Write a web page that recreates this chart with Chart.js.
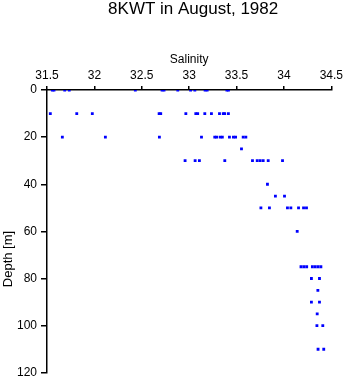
<!DOCTYPE html>
<html lang="en">
<head>
    <meta charset="UTF-8">
    <title>8KWT in August, 1982</title>
    <script src="https://cdn.jsdelivr.net/npm/chart.js"></script>
    <style>
        body { margin: 0; background: #ffffff; }
        #wrap { width: 346px; height: 384px; }
    </style>
</head>
<body>
    <div id="wrap"><canvas id="chart" width="346" height="384"></canvas></div>
    <script>
        const chartTitle = '8KWT in August, 1982';
        const xLabel = 'Salinity';
        const yLabel = 'Depth [m]';

        // one entry per sample: depth [m] and salinity
        const depth = [
            0, 0, 0, 0, 0, 0, 0, 0, 0, 0, 0, 0, 0, 0,
            10, 10, 10, 10, 10, 10, 10, 10, 10, 10, 10, 10, 10, 10,
            20, 20, 20, 20, 20, 20, 20, 20, 20, 20, 20, 20, 20,
            25,
            30, 30, 30, 30, 30, 30, 30, 30, 30, 30,
            40,
            45, 45,
            50, 50, 50, 50, 50, 50, 50,
            60,
            75, 75, 75, 75, 75, 75, 75,
            80, 80,
            85,
            90, 90,
            95,
            100, 100,
            110, 110
        ];
        const salinity = [
            31.556, 31.574, 31.687, 31.735, 32.432, 32.714, 32.735, 32.880, 33.015, 33.060, 33.168, 33.190, 33.398, 33.415,
            31.535, 31.814, 31.978, 32.683, 32.700, 32.965, 33.070, 33.090, 33.165, 33.235, 33.320, 33.360, 33.375, 33.414,
            31.662, 32.116, 32.686, 33.130, 33.270, 33.290, 33.327, 33.350, 33.425, 33.467, 33.490, 33.570, 33.598,
            33.552,
            32.957, 33.063, 33.108, 33.376, 33.668, 33.718, 33.749, 33.781, 33.834, 33.985,
            33.826,
            33.910, 34.006,
            33.757, 33.847, 34.037, 34.073, 34.154, 34.207, 34.238,
            34.140,
            34.180, 34.210, 34.240, 34.300, 34.330, 34.360, 34.390,
            34.290, 34.375,
            34.358,
            34.290, 34.375,
            34.351,
            34.348, 34.410,
            34.360, 34.420
        ];

        const points = salinity.map((s, i) => ({ x: s, y: depth[i] }));
        const font = 'Liberation Sans, Arial, sans-serif';

        // title over the plot area and the y label a bit below the middle, as in the original
        const plotLabels = {
            id: 'plotLabels',
            afterDraw(chart) {
                const ctx = chart.ctx;
                const a = chart.chartArea;
                ctx.save();
                ctx.fillStyle = '#000';
                ctx.font = '17px ' + font;
                ctx.textAlign = 'center';
                ctx.textBaseline = 'middle';
                ctx.fillText(chartTitle, (a.left + a.right) / 2 + 4, 9);

                ctx.font = '13px ' + font;
                ctx.translate(8, 259);
                ctx.rotate(-Math.PI / 2);
                ctx.fillText(yLabel, 0, 0);
                ctx.restore();
            }
        };

        new Chart(document.getElementById('chart').getContext('2d'), {
            type: 'scatter',
            data: {
                datasets: [{
                    data: points,
                    backgroundColor: '#0000ff',
                    borderWidth: 0,
                    pointStyle: 'rect',
                    pointRadius: 2,
                    pointHoverRadius: 2
                }]
            },
            options: {
                responsive: false,
                animation: false,
                layout: { padding: { left: 0, right: 13, top: 52, bottom: 3 } },
                plugins: {
                    legend: { display: false },
                    tooltip: { enabled: false },
                    title: { display: false }
                },
                scales: {
                    x: {
                        position: 'top',
                        min: 31.5,
                        max: 34.5,
                        afterFit: s => { s.height = 38; },
                        ticks: {
                            stepSize: 0.5,
                            color: '#000',
                            padding: 3,
                            maxRotation: 0,
                            font: { family: font, size: 12 },
                            callback: v => String(v)
                        },
                        grid: { drawOnChartArea: false, tickLength: 4, color: '#000', lineWidth: 1.5 },
                        border: { color: '#000', width: 1.5 },
                        title: {
                            display: true,
                            text: xLabel,
                            color: '#000',
                            font: { family: font, size: 12 },
                            padding: { top: 0, bottom: 0 }
                        }
                    },
                    y: {
                        reverse: true,
                        min: 0,
                        max: 120,
                        afterFit: s => { s.width = 47; },
                        ticks: {
                            stepSize: 20,
                            color: '#000',
                            padding: 4,
                            font: { family: font, size: 12 }
                        },
                        grid: { drawOnChartArea: false, tickLength: 6, color: '#000', lineWidth: 1.5 },
                        border: { color: '#000', width: 1.5 },
                        title: { display: false }
                    }
                }
            },
            plugins: [plotLabels]
        });
    </script>
</body>
</html>
